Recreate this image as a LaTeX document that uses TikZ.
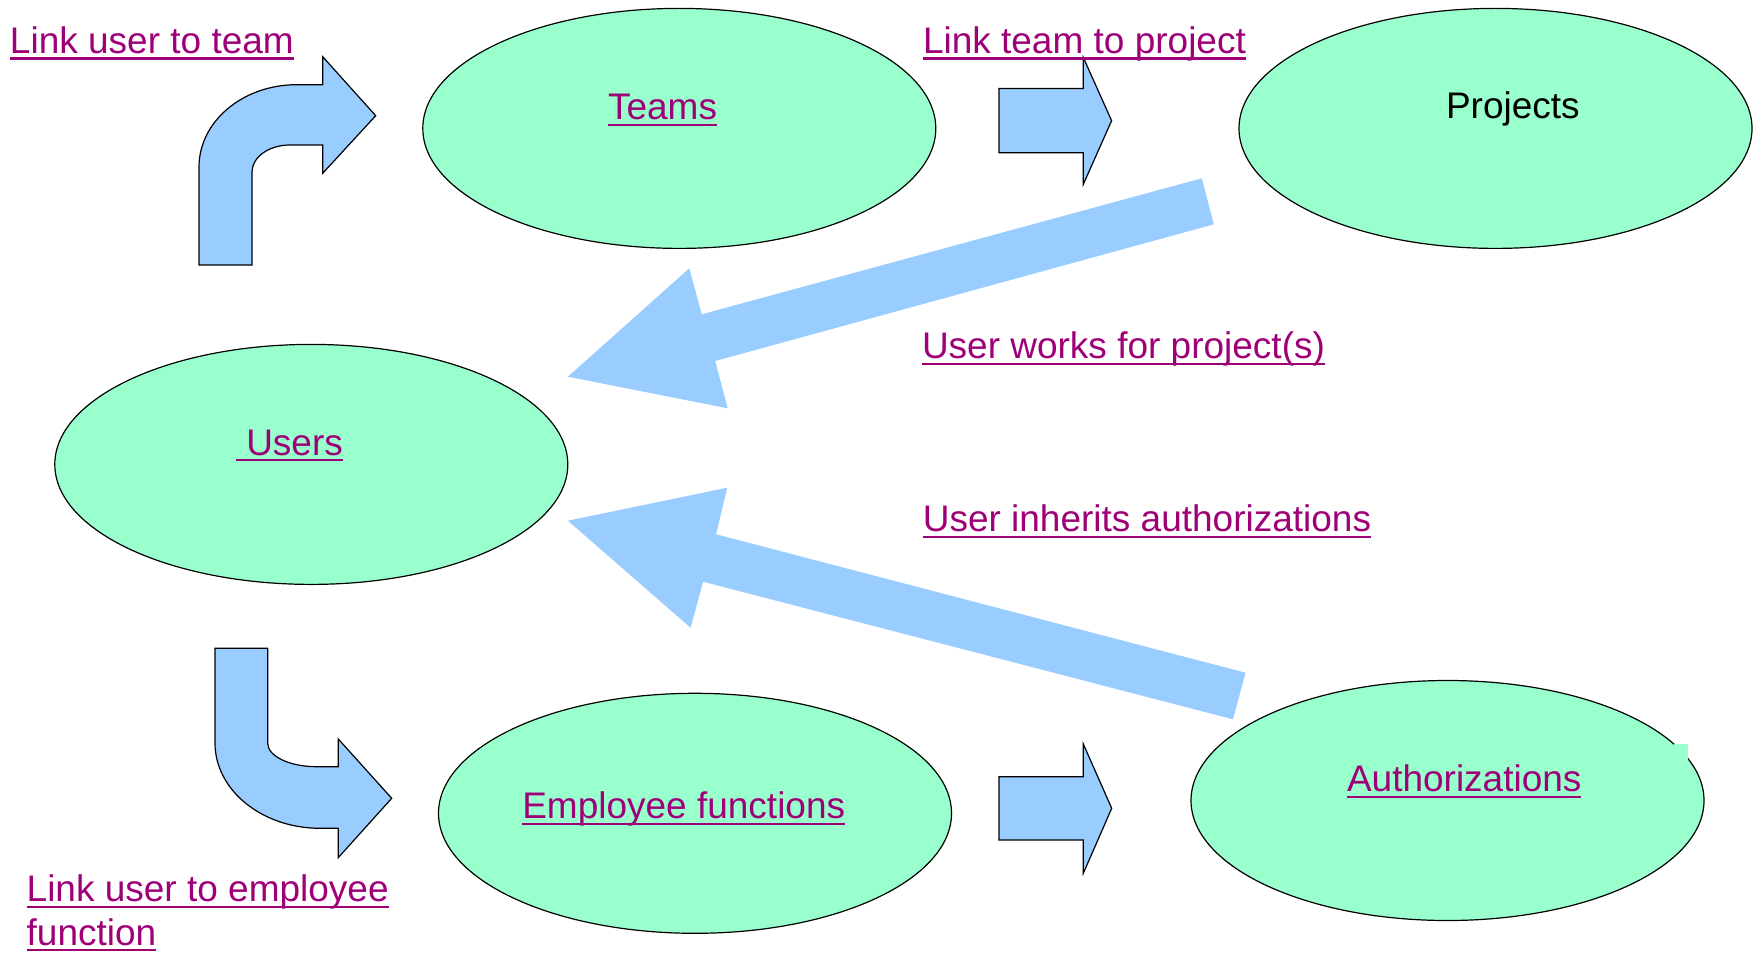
\documentclass[tikz,border=0pt]{standalone}
\usepackage{fontspec}
\setmainfont{Liberation Sans}
\usetikzlibrary{shapes.geometric}
\definecolor{ellgreen}{HTML}{99FFCC}
\definecolor{arrblue}{HTML}{99CCFF}
\definecolor{linkc}{RGB}{158,0,120}
\newcommand\lnk[1]{{\color{linkc}\setbox0=\hbox{#1}\rlap{\rule[-3.2pt]{\wd0}{1.1pt}}\box0}}
\tikzset{
  ell/.style={ellipse, draw=black, line width=0.6pt, fill=ellgreen, minimum width=256.5pt, minimum height=120pt, inner sep=0pt},
  txt/.style={anchor=base west, inner sep=0pt, outer sep=0pt, font=\fontsize{18.5}{22}\selectfont},
  blockarrow/.style={draw=black, line width=0.6pt, fill=arrblue, line join=miter},
  bigarrow/.style={fill=arrblue, draw=none}
}
\begin{document}
\begin{tikzpicture}[x=0.5pt,y=-0.5pt]
\useasboundingbox (0,0) rectangle (1759,952);
% ellipses
\node[ell] (teams) at (679.3,128.4) {};
\node[ell] (projects) at (1495.5,128.4) {};
\node[ell] (users) at (311.3,464.4) {};
\node[ell] (empf) at (695,813.3) {};
\node[ell] (auth) at (1447.5,800.5) {};
\fill[ellgreen] (1674,744) rectangle (1688,760);
% bent arrow: link user to team
\draw[blockarrow] (199,265) -- (199,167) .. controls (199,121.5) and (242.7,84.7) .. (296.7,84.7)
  -- (322.7,84.7) -- (322.7,56.7) -- (375.7,115.7) -- (322.7,173.3) -- (322.7,145) -- (290,145)
  .. controls (269,145) and (252,157.1) .. (252,172) -- (252,265) -- cycle;
% bent arrow: link user to employee function
\draw[blockarrow] (215,648.3) -- (267.7,648.3) -- (267.7,743.3) .. controls (267.7,756.2) and (289.6,766.7) .. (316.7,766.7)
  -- (338.3,766.7) -- (338.3,739) -- (391.7,798.3) -- (338.3,857.6) -- (338.3,828.3) -- (320,828.3)
  .. controls (262,828.3) and (215,790.1) .. (215,743) -- cycle;
% straight arrows
\draw[blockarrow] (999,88.5) -- (1083.3,88.5) -- (1083.3,57.5) -- (1111.6,120.7) -- (1083.3,184.3) -- (1083.3,152.7) -- (999,152.7) -- cycle;
\draw[blockarrow] (999,776.7) -- (1083.3,776.7) -- (1083.3,744) -- (1111.7,808.3) -- (1083.3,873.3) -- (1083.3,840) -- (999,840) -- cycle;
% big arrows
\fill[bigarrow] (1201.8,178.3) -- (1213.8,224.3) -- (715.2,361) -- (727.7,408.3) -- (567.9,376.7) -- (689.3,268.3) -- (701.8,314.3) -- cycle;
\fill[bigarrow] (1245.5,672.7) -- (1233,719.3) -- (703.1,581.7) -- (690.6,627.7) -- (567.9,520.7) -- (727.2,487.7) -- (716.1,534.3) -- cycle;
% texts
\node[txt] (tteams) at (608,120) {\lnk{Teams}};
\node[txt] (tprojects) at (1446,118.3) {Projects};
\node[txt] (tusers) at (236,455) {\lnk{\ Users}};
\node[txt] (tempf) at (522.3,818.5) {\lnk{Employee functions}};
\node[txt] (tauth) at (1347,791.7) {\lnk{Authorizations}};
\node[txt] (l1) at (10,53.3) {\lnk{Link user to team}};
\node[txt] (l2) at (923,53.3) {\lnk{Link team to project}};
\node[txt] (l3) at (922,358.3) {\lnk{User works for project(s)}};
\node[txt] (l4) at (922.8,531.7) {\lnk{User inherits authorizations}};
\node[txt] (l5a) at (26.7,901.7) {\lnk{Link user to employee}};
\node[txt] (l5b) at (26.7,945) {\lnk{function}};
\end{tikzpicture}
\end{document}
